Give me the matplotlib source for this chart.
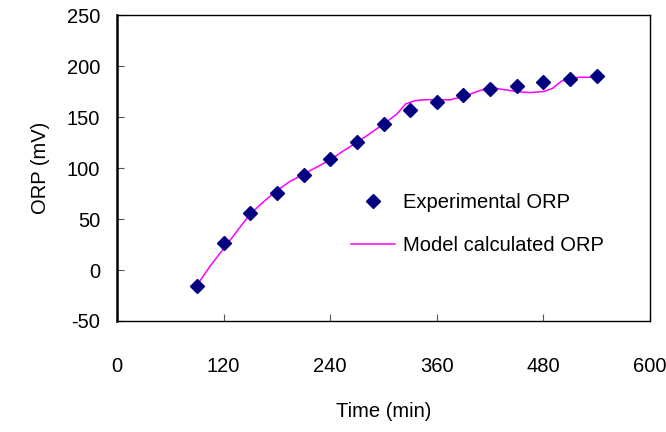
import matplotlib
matplotlib.use('Agg')
from matplotlib import pyplot as plt

plt.rcParams['font.family'] = ['Liberation Sans', 'DejaVu Sans']
plt.rcParams['axes.unicode_minus'] = False

# experimental points
exp_time = [90, 120, 150, 180, 210, 240, 270, 300, 330, 360, 390, 420, 450, 480, 510, 540]
exp_orp = [-16, 26.5, 55.5, 76, 93, 108.5, 125.5, 143, 156.5, 165, 172, 177.5, 180.5, 184, 187, 190]

# model curve
model_time = [90, 105, 120, 135, 150, 165, 180, 195, 210, 225, 240, 255, 270, 285, 300,
              315, 325, 335, 345, 360, 375, 390, 405, 420, 435, 450, 465, 480, 490,
              500, 510, 520, 530, 540]
model_orp = [-15, 4, 21, 38, 55, 67, 78, 87, 94, 101, 108, 117, 125, 134, 143,
             153, 163, 166, 167, 167, 167, 170, 175, 179, 177, 175, 174, 175, 178,
             185, 188, 189, 189, 189.5]

x_ticks = [0, 120, 240, 360, 480, 600]
y_ticks = [-50, 0, 50, 100, 150, 200, 250]

fig = plt.figure(figsize=(6.66, 4.32), dpi=100)
ax = fig.add_axes([0.1757, 0.257, 0.8003, 0.708])

ax.plot(exp_time, exp_orp, 'D', color='#000080', markersize=7.5, linestyle='none',
        label='Experimental ORP', zorder=3)
ax.plot(model_time, model_orp, '-', color='#FF00FF', linewidth=1.1,
        label='Model calculated ORP', zorder=2)

ax.set_xlim(0, 600)
ax.set_ylim(-50, 250)
ax.set_xticks(x_ticks)
ax.set_yticks(y_ticks)

ax.tick_params(axis='both', direction='in', length=5, color='#555555', labelsize=14.5)
ax.tick_params(axis='x', pad=26)
ax.tick_params(axis='y', pad=12)

for side in ['top', 'right', 'bottom']:
    ax.spines[side].set_linewidth(1.0)
ax.spines['left'].set_linewidth(1.8)

ax.set_xlabel('Time (min)', fontsize=14.5, labelpad=19)
ax.set_ylabel('ORP (mV)', fontsize=14.5, labelpad=12)

ax.legend(loc='center left', bbox_to_anchor=(0.405, 0.317), frameon=False, fontsize=14.5,
          handlelength=2.2, handletextpad=0.4, labelspacing=1.15, numpoints=1)

fig.savefig('out.png', dpi=100)
